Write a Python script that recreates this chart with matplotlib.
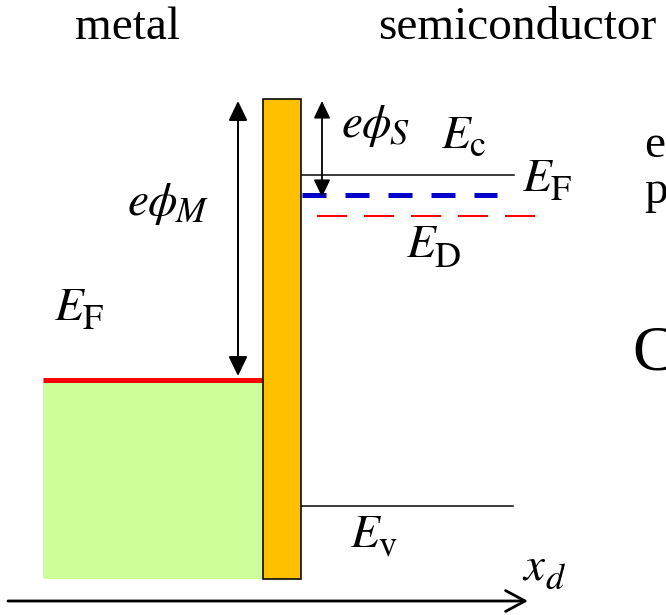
import matplotlib.pyplot as plt
from matplotlib.patches import Rectangle

plt.rcParams['mathtext.fontset'] = 'stix'
plt.rcParams['font.family'] = ['Liberation Serif', 'DejaVu Serif']

# diagram units: x = position, y = energy (drawn top-down, like the slide)
x_metal = [43, 263]          # metal block
x_barrier = [263, 301]       # insulating / barrier layer
x_semi_end = 514             # end of semiconductor levels
barrier_top = 99
bottom = 579

ef_metal = 380               # Fermi level in metal
ec_semi = 175                # conduction band edge
ef_semi = 195                # Fermi level in semiconductor
ed_semi = 216                # donor level
ev_semi = 506                # valence band edge

headers = ['metal', 'semiconductor']
side_text = ['e', 'p', 'C']  # cut-off slide text on the right

fig = plt.figure(figsize=(6.66, 6.15), dpi=100)
ax = fig.add_axes([0, 0, 1, 1])
ax.set_xlim(0, 666)
ax.set_ylim(615, 0)
ax.axis('off')
renderer = fig.canvas.get_renderer()

px = 0.72  # one pixel in points


def label(x, y, main, sub, size=34, sub_size=26, drop=9, gap=-4):
    # main symbol + larger-than-mathtext subscript (Cambria-like look)
    t = ax.text(x, y, main, fontsize=size, va='baseline', ha='left')
    w = t.get_window_extent(renderer).width
    ax.text(x + w + gap, y + drop, sub, fontsize=sub_size, va='baseline', ha='left')


# metal (filled up to the Fermi level)
ax.add_patch(Rectangle((x_metal[0], ef_metal), x_metal[1] - x_metal[0], bottom - ef_metal,
                       facecolor='#CCFF99', edgecolor='none', zorder=1))
ax.plot([x_metal[0], x_metal[1] - 1], [ef_metal, ef_metal], color='#FF0000', lw=5 * px,
        solid_capstyle='butt', zorder=2)

# barrier
ax.add_patch(Rectangle((x_barrier[0], barrier_top), x_barrier[1] - x_barrier[0], bottom - barrier_top,
                       facecolor='#FFC000', edgecolor='black', lw=1.6 * px, zorder=3))

# semiconductor levels
ax.plot([x_barrier[1], x_semi_end], [ec_semi, ec_semi], color='black', lw=1.5 * px, zorder=2)
ax.plot([x_barrier[1], x_semi_end - 1], [ev_semi, ev_semi], color='black', lw=1.5 * px, zorder=2)
ax.plot([x_barrier[1] + 1, 497], [ef_semi, ef_semi], color='#0000CC', lw=5 * px,
        dashes=(4.8, 3.8), solid_capstyle='butt', dash_capstyle='butt', zorder=2)
ax.plot([317, 537], [ed_semi, ed_semi], color='#FF0000', lw=2 * px,
        dashes=(15, 8.5), dash_capstyle='butt', zorder=2)

# work function arrows
ax.annotate('', xy=(238, ef_metal - 4), xytext=(238, barrier_top + 2),
            arrowprops=dict(arrowstyle='<|-|>,head_length=1.2,head_width=0.58', mutation_scale=10,
                            color='black', lw=2 * px, shrinkA=0, shrinkB=0))
ax.annotate('', xy=(322, ef_semi + 2), xytext=(322, barrier_top + 2),
            arrowprops=dict(arrowstyle='<|-|>,head_length=1.05,head_width=0.5', mutation_scale=10,
                            color='black', lw=1.8 * px, shrinkA=0, shrinkB=0))

# position axis
ax.annotate('', xy=(528, 601), xytext=(8, 601),
            arrowprops=dict(arrowstyle='->,head_length=1.4,head_width=0.75', mutation_scale=10,
                            color='black', lw=2.8 * px, shrinkA=0, shrinkB=0))

# headers and cut-off slide text
ax.text(75, 39, headers[0], fontsize=34, va='baseline', ha='left')
ax.text(378, 39, headers[1], fontsize=34, va='baseline', ha='left')
ax.text(644, 157, side_text[0], fontsize=34, va='baseline', ha='left')
ax.text(644, 203, side_text[1], fontsize=34, va='baseline', ha='left')
ax.text(632, 370, side_text[2], fontsize=46, va='baseline', ha='left')

# math labels
label(127, 215, r'$e\phi$', r'$M$', drop=7, gap=-3)
label(341, 137, r'$e\phi$', r'$S$', drop=7, gap=-3)
label(441, 148, r'$E$', r'$\mathrm{c}$', drop=8)
label(522, 191, r'$E$', r'$\mathrm{F}$')
label(406, 257, r'$E$', r'$\mathrm{D}$', drop=10)
label(54, 320, r'$E$', r'$\mathrm{F}$')
label(350, 547, r'$E$', r'$\mathrm{v}$', drop=8)
label(522, 580, r'$x$', r'$d$', drop=9, gap=-1)

fig.savefig('out.png', dpi=100)
